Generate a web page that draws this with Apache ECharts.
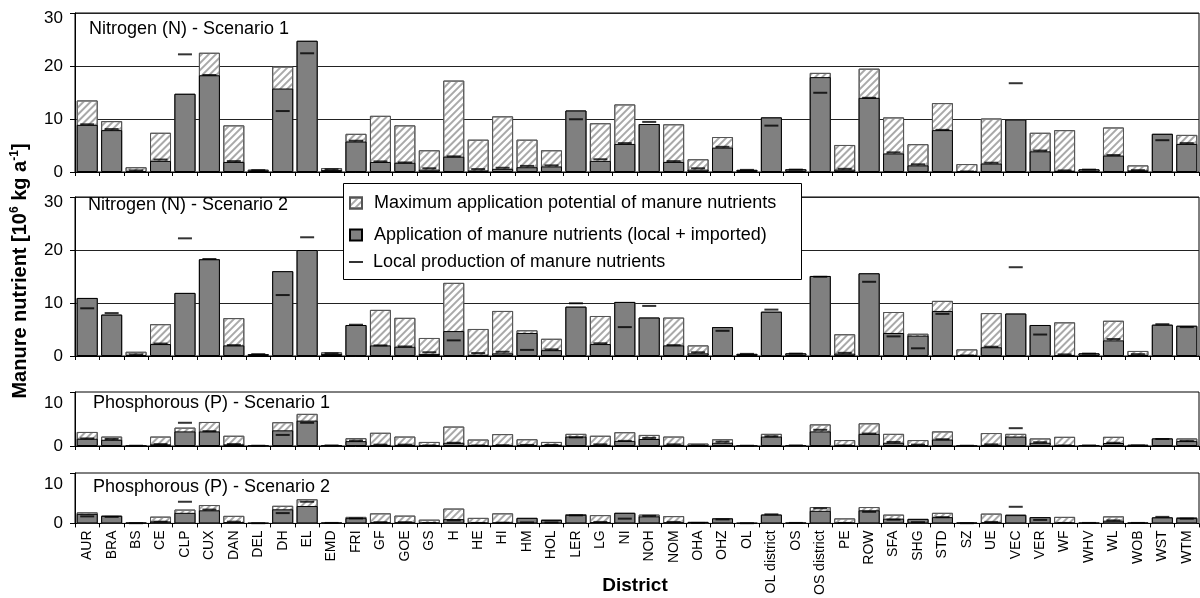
<!DOCTYPE html>
<html><head><meta charset="utf-8">
<script src="https://cdn.jsdelivr.net/npm/echarts@6/dist/echarts.min.js"></script>
<style>html,body{margin:0;padding:0;background:#fff}#c{width:1200px;height:598px}</style>
</head><body><div id="c"></div>
<script>
// ---------- DATA ----------
const districts = ['AUR','BRA','BS','CE','CLP','CUX','DAN','DEL','DH','EL','EMD','FRI','GF','GOE','GS','H','HE','HI','HM','HOL','LER','LG','NI','NOH','NOM','OHA','OHZ','OL','OL district','OS','OS district','PE','ROW','SFA','SHG','STD','SZ','UE','VEC','VER','WF','WHV','WL','WOB','WST','WTM'];

// Local production of manure nutrients (same in both scenarios)
const localN = [9.0,8.1,0.3,2.35,22.2,18.3,2.05,0.35,11.5,22.4,0.5,5.9,2.0,1.8,0.7,2.95,0.55,0.8,1.15,1.25,9.95,2.4,5.45,9.45,2.05,0.7,4.75,0.4,8.75,0.45,14.95,0.6,14.0,3.7,1.45,7.95,0.1,1.75,16.75,4.05,0.3,0.45,3.2,0.35,6.0,5.45];
const localP = [1.4,1.3,0.05,0.35,4.3,2.75,0.35,0.05,2.05,4.3,0.1,1.0,0.25,0.25,0.1,0.6,0.1,0.15,0.2,0.2,1.6,0.3,0.95,1.5,0.3,0.1,0.8,0.05,1.8,0.1,3.0,0.1,2.3,0.75,0.25,1.25,0.05,0.3,3.3,0.7,0.1,0.1,0.6,0.1,1.3,0.95];

// Nitrogen - Scenario 1
const maxN1 = [13.5,9.6,0.9,7.4,14.75,22.5,8.8,0.45,19.9,24.75,0.75,7.2,10.6,8.8,4.1,17.25,6.1,10.5,6.1,4.1,11.6,9.2,12.75,9.05,9.0,2.4,6.6,0.4,10.3,0.55,18.7,5.1,19.5,10.3,5.25,13.0,1.5,10.1,9.9,7.4,7.9,0.5,8.4,1.25,7.2,7.0];
const appN1 = [8.9,7.9,0.2,2.1,14.75,18.25,1.9,0.3,15.75,24.75,0.4,5.75,1.9,1.75,0.45,2.9,0.3,0.6,0.9,1.05,11.6,2.1,5.3,9.05,1.9,0.45,4.6,0.4,10.3,0.5,17.9,0.45,14.0,3.5,1.25,7.9,0.1,1.6,9.9,3.9,0.25,0.5,3.1,0.3,7.2,5.3];

// Nitrogen - Scenario 2
const maxN2 = [10.95,7.8,0.8,6.0,11.9,18.25,7.15,0.35,16.0,20.0,0.7,5.85,8.7,7.2,3.4,13.8,5.1,8.5,4.85,3.25,9.3,7.55,10.2,7.25,7.25,2.0,5.45,0.4,8.35,0.5,15.1,4.1,15.6,8.3,4.2,10.4,1.25,8.1,8.0,5.85,6.35,0.5,6.65,0.95,5.9,5.7];
const appN2 = [10.95,7.8,0.2,2.25,11.9,18.25,2.0,0.35,16.0,20.0,0.4,5.85,2.0,1.75,0.4,4.7,0.25,0.5,4.35,1.1,9.3,2.25,10.2,7.25,2.0,0.5,5.45,0.4,8.35,0.5,15.1,0.45,15.6,4.35,3.85,8.5,0.1,1.65,8.0,5.85,0.2,0.5,2.95,0.2,5.9,5.7];

// Phosphorous - Scenario 1
const maxP1 = [2.6,1.75,0.15,1.75,3.4,4.45,1.9,0.1,4.4,5.95,0.15,1.45,2.45,1.75,0.75,3.6,1.2,2.2,1.25,0.75,2.25,1.9,2.55,2.05,1.75,0.45,1.25,0.1,2.25,0.1,4.0,1.1,4.2,2.25,1.1,2.7,0.15,2.4,2.25,1.4,1.7,0.1,1.7,0.25,1.4,1.4];
const appP1 = [1.35,1.15,0.05,0.3,2.7,2.7,0.3,0.05,2.9,4.7,0.1,0.9,0.2,0.2,0.1,0.6,0.1,0.15,0.2,0.2,1.75,0.2,0.95,1.3,0.2,0.1,0.6,0.05,1.75,0.1,2.7,0.1,2.25,0.6,0.15,1.2,0.05,0.2,1.75,0.6,0.1,0.1,0.55,0.1,1.4,0.9];

// Phosphorous - Scenario 2
const maxP2 = [2.2,1.55,0.15,1.35,2.75,3.65,1.5,0.05,3.5,4.8,0.15,1.3,2.0,1.55,0.75,2.95,1.1,2.0,1.1,0.75,1.85,1.65,2.1,1.75,1.45,0.3,1.0,0.05,1.75,0.1,3.25,1.0,3.25,1.75,0.9,2.1,0.15,1.95,1.75,1.25,1.3,0.1,1.4,0.15,1.2,1.2];
const appP2 = [1.9,1.5,0.1,0.4,2.1,2.6,0.25,0.05,2.8,3.45,0.1,1.05,0.2,0.2,0.1,0.85,0.1,0.15,1.1,0.7,1.7,0.25,2.1,1.4,0.2,0.3,1.0,0.05,1.75,0.1,2.5,0.1,2.6,0.95,0.9,1.25,0.1,0.2,1.65,1.25,0.1,0.1,0.55,0.1,1.2,1.05];

const panelTitles = ['Nitrogen (N) - Scenario 1','Nitrogen (N) - Scenario 2','Phosphorous (P) - Scenario 1','Phosphorous (P) - Scenario 2'];
const yMaxN = 30, yMaxP = 10, yStep = 10;
const seriesNames = ['Maximum application potential of manure nutrients','Application of manure nutrients (local + imported)','Local production of manure nutrients'];
const xTitle = 'District';

// ---------- LAYOUT / STYLE ----------
const FONT = '"Liberation Sans", Arial, sans-serif';
const panels = [
  {top:13,  height:159, max:yMaxN, maxv:maxN1, app:appN1, loc:localN, pad:10, titleX:89, titleY:29},
  {top:197, height:159, max:yMaxN, maxv:maxN2, app:appN2, loc:localN, pad:10, titleX:88, titleY:205},
  {top:392, height:54,  max:yMaxP, maxv:maxP1, app:appP1, loc:localP, pad:22, titleX:93, titleY:403},
  {top:473, height:54,  max:yMaxP, maxv:maxP2, app:appP2, loc:localP, pad:22, titleX:93, titleY:487}
];
const hatch = {symbol:'rect', symbolSize:1, dashArrayX:[1,0], dashArrayY:[2,3], rotation:-Math.PI/4, color:'#a9a9a9'};

const grid = [], xAxis = [], yAxis = [], series = [], graphic = [];
panels.forEach((p, i) => {
  grid.push({left:75, right:1, top:p.top, height:p.height, show:true, borderColor:'#000', borderWidth:1, backgroundColor:'transparent'});
  xAxis.push({
    gridIndex:i, type:'category', data:districts, boundaryGap:true,
    axisLine:{show:true, lineStyle:{color:'#000', width:1}},
    axisTick:{show:true, interval:0, length:4, lineStyle:{color:'#000'}},
    axisLabel: i === 3 ? {show:true, interval:0, rotate:90, fontSize:14, fontFamily:FONT, color:'#000', margin:7} : {show:false},
    splitLine:{show:false}
  });
  yAxis.push({
    gridIndex:i, type:'value', min:0, max:p.max, interval:yStep,
    axisLine:{show:true, lineStyle:{color:'#000'}},
    axisTick:{show:true, length:5, lineStyle:{color:'#000'}},
    axisLabel:{fontSize:17, fontFamily:FONT, color:'#000', margin:12,
      formatter: v => v === p.max ? '{t|' + v + '}' : String(v),
      rich:{t:{fontSize:17, fontFamily:FONT, color:'#000', padding:[p.pad,0,0,0]}}},
    splitLine:{show:p.max === yMaxN, lineStyle:{color:'#222', width:1}}
  });
  series.push({
    name:seriesNames[0], type:'bar', xAxisIndex:i, yAxisIndex:i, data:p.maxv,
    barWidth:21, barGap:'-100%', z:2,
    itemStyle:{color:'#ffffff', borderColor:'#555', borderWidth:1, decal:hatch}
  });
  series.push({
    name:seriesNames[1], type:'bar', xAxisIndex:i, yAxisIndex:i, data:p.app,
    barWidth:21, barGap:'-100%', z:3,
    itemStyle:{color:'#808080', borderColor:'#000', borderWidth:1}
  });
  series.push({
    name:seriesNames[2], type:'scatter', xAxisIndex:i, yAxisIndex:i, data:p.loc,
    symbol:'rect', symbolSize:[14,2], z:5,
    itemStyle:{color:'#000'}
  });
  graphic.push({type:'text', x:p.titleX, y:p.titleY, z:6,
    style:{text:panelTitles[i], font:'18px ' + FONT, fill:'#000', verticalAlign:'middle', align:'left'}});
});

// legend box
graphic.push({type:'rect', z:8, shape:{x:343.5, y:183.5, width:458, height:96}, style:{fill:'#fff', stroke:'#000', lineWidth:1}});
// axis titles
graphic.push({type:'text', x:635, y:586, z:6,
  style:{text:xTitle, font:'bold 19px ' + FONT, fill:'#000', align:'center', verticalAlign:'middle'}});
graphic.push({type:'text', x:20, y:271, rotation:Math.PI/2, z:6,
  style:{text:'{b|Manure nutrient [10}{s|6}{b| kg a}{s|-1}{b|]}', align:'center', verticalAlign:'middle',
    rich:{b:{font:'bold 20px ' + FONT, fill:'#000'}, s:{font:'bold 12px ' + FONT, fill:'#000', padding:[0,0,10,0]}}}});

const legendRows = [204, 236, 263];
const legend = seriesNames.map((n, k) => ({
  data:[n], left:349, top:legendRows[k] - 10, padding:0, z:10, selectedMode:false,
  itemWidth: k === 2 ? 14 : 12, itemHeight: k === 2 ? 2 : 11,
  icon: 'rect',
  formatter: name => '{t|' + name + '}',
  textStyle:{fontSize:18, fontFamily:FONT, color:'#000',
    rich:{t:{fontSize:18, fontFamily:FONT, color:'#000', padding:[0,0,0, k === 2 ? 5 : 7]}}}
}));

const chart = echarts.init(document.getElementById('c'), null, {renderer:'canvas'});
chart.setOption({
  animation:false,
  backgroundColor:'#fff',
  textStyle:{fontFamily:FONT},
  grid, xAxis, yAxis, series, legend, graphic
});
</script>
</body></html>
